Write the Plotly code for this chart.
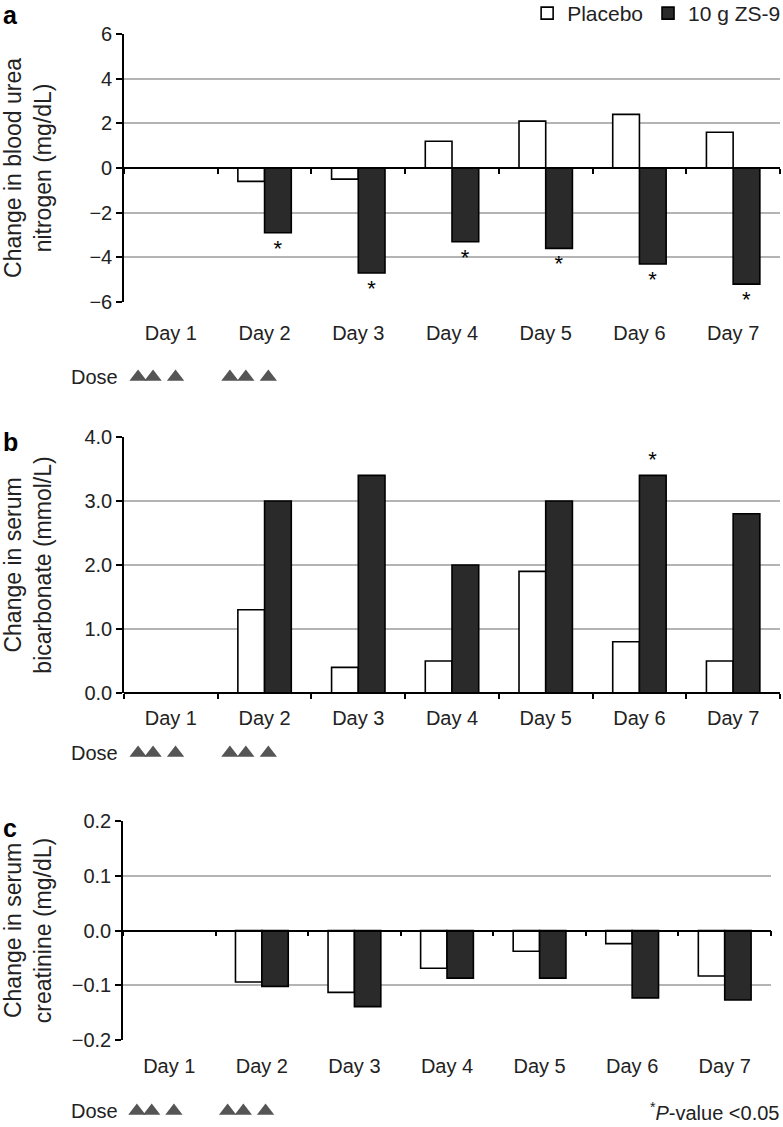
import plotly.graph_objects as go

# ---------------- data ----------------
days = ["Day 1", "Day 2", "Day 3", "Day 4", "Day 5", "Day 6", "Day 7"]
series_names = ["Placebo", "10 g ZS-9"]

bun_placebo = [None, -0.6, -0.5, 1.2, 2.1, 2.4, 1.6]
bun_zs9 = [None, -2.9, -4.7, -3.3, -3.6, -4.3, -5.2]
bun_sig = [False, True, True, True, True, True, True]

bic_placebo = [None, 1.3, 0.4, 0.5, 1.9, 0.8, 0.5]
bic_zs9 = [None, 3.0, 3.4, 2.0, 3.0, 3.4, 2.8]
bic_sig = [False, False, False, False, False, True, False]

cre_placebo = [None, -0.094, -0.113, -0.069, -0.038, -0.024, -0.083]
cre_zs9 = [None, -0.102, -0.139, -0.087, -0.087, -0.123, -0.127]
cre_sig = [False] * 7

# dose times, in day units (Day 1 = 0)
dose_times = [-0.35, -0.19, 0.05, 0.63, 0.80, 1.04]

y_titles = ["Change in blood urea<br>nitrogen (mg/dL)",
            "Change in serum<br>bicarbonate (mmol/L)",
            "Change in serum<br>creatinine (mg/dL)"]
panel_letters = ["a", "b", "c"]
y_ranges = [[-6, 6], [0, 4], [-0.2, 0.2]]
y_dticks = [2, 1, 0.1]
y_formats = ["d", ".1f", ".1f"]

# ---------------- layout helpers ----------------
W, H = 783, 1127
FONT = "Liberation Sans, Arial, Helvetica, sans-serif"
def fx(px):
    return px / W
def fy(px):
    return 1 - px / H

xs = list(range(len(days)))
x_range = [-0.5, len(days) - 0.5]
boundaries = [i - 0.5 for i in range(len(days) + 1)]

# panel pixel boxes (left, right, top, bottom)
boxes = [(124, 780, 34, 302), (124, 780, 437, 693), (123, 771, 821, 1040)]
dose_centers = [377, 753, 1111]
label_standoff = [17, 11, 12]
title_standoff = [33, 29, 16]
letter_tops = [0, 427, 813]

fig = go.Figure()
layout = {}
annotations = []

panels = [(bun_placebo, bun_zs9, bun_sig),
          (bic_placebo, bic_zs9, bic_sig),
          (cre_placebo, cre_zs9, cre_sig)]

for i, (plac, zs, sig) in enumerate(panels):
    n = i + 1
    xk = "xaxis" if n == 1 else f"xaxis{n}"
    yk = "yaxis" if n == 1 else f"yaxis{n}"
    xref = "x" if n == 1 else f"x{n}"
    yref = "y" if n == 1 else f"y{n}"
    l, r, t, b = boxes[i]

    fig.add_trace(go.Bar(
        x=xs, y=plac, name=series_names[0], legendgroup="p", showlegend=(i == 0),
        marker=dict(color="white", line=dict(color="black", width=1.6)),
        xaxis=xref, yaxis=yref, hoverinfo="skip"))
    zs_kwargs = {}
    if any(sig):
        zs_kwargs = dict(text=["*" if s else "" for s in sig], textposition="outside",
                         textfont=dict(size=22, color="black", family=FONT),
                         constraintext="none", cliponaxis=False)
    fig.add_trace(go.Bar(
        x=xs, y=zs, name=series_names[1], legendgroup="z", showlegend=(i == 0),
        marker=dict(color="#2a2a2a", line=dict(color="black", width=1.6)),
        xaxis=xref, yaxis=yref, hoverinfo="skip", **zs_kwargs))

    ydom = [fy(b), fy(t)]
    layout[xk] = dict(domain=[fx(l), fx(r)], range=x_range, anchor=yref,
                      tickvals=xs, ticktext=days, ticks="", showline=False,
                      showgrid=False, zeroline=False, ticklabelstandoff=label_standoff[i],
                      tickfont=dict(size=20, color="#222", family=FONT))
    layout[yk] = dict(domain=ydom, range=y_ranges[i], dtick=y_dticks[i],
                      tickformat=y_formats[i], anchor=xref,
                      showline=True, linecolor="black", linewidth=1.6,
                      ticks="outside", ticklen=6, tickwidth=1.6, tickcolor="black",
                      showgrid=True, gridcolor="#b4b4b4", gridwidth=2,
                      zeroline=True, zerolinecolor="black", zerolinewidth=1.6,
                      tickfont=dict(size=20, color="#222", family=FONT),
                      title=dict(text=y_titles[i], standoff=title_standoff[i],
                                 font=dict(size=23, color="#222", family=FONT)))

    # boundary-tick axis along the zero line
    m = n + 3
    tk = f"xaxis{m}"
    tref = f"x{m}"
    lo, hi = y_ranges[i]
    zero_pos = ydom[0] + (0 - lo) / (hi - lo) * (ydom[1] - ydom[0])
    layout[tk] = dict(overlaying=xref, anchor="free", position=zero_pos,
                      range=x_range, tickvals=boundaries, ticks="outside",
                      ticklen=5, tickwidth=1.6, tickcolor="black",
                      showticklabels=False, showline=True, linecolor="black",
                      linewidth=1.6, showgrid=False, zeroline=False)
    fig.add_trace(go.Scatter(x=[None], y=[None], xaxis=tref, yaxis=yref,
                             showlegend=False, hoverinfo="skip", mode="markers"))

    # dose row
    d = n + 6
    dxk, dyk = f"xaxis{d}", f"yaxis{d}"
    dxr, dyr = f"x{d}", f"y{d}"
    c = dose_centers[i]
    layout[dxk] = dict(domain=[fx(l), fx(r)], range=x_range, anchor=dyr, visible=False)
    layout[dyk] = dict(domain=[fy(c + 12), fy(c - 12)], range=[0, 1], anchor=dxr, visible=False)
    fig.add_trace(go.Scatter(x=dose_times, y=[0.5] * len(dose_times), mode="markers",
                             marker=dict(symbol="triangle-up", size=15, color="#555555",
                                         line=dict(width=0)),
                             xaxis=dxr, yaxis=dyr, showlegend=False, hoverinfo="skip"))
    annotations.append(dict(text="Dose", xref="paper", x=fx(120), xanchor="right",
                            yref=f"{dyr} domain", y=0.5, yanchor="middle", showarrow=False,
                            font=dict(size=20, color="#222", family=FONT)))

    # panel letter
    annotations.append(dict(text=f"<b>{panel_letters[i]}</b>", xref="paper", x=0.002, xanchor="left",
                            yref="paper", y=fy(letter_tops[i]), yanchor="top",
                            showarrow=False, borderpad=0,
                            font=dict(size=25, color="black", family=FONT)))

annotations.append(dict(text="<sup>*</sup><i>P</i>-value <0.05", xref="paper", x=fx(781),
                        xanchor="right", yref="y9 domain", y=0.5, yanchor="middle",
                        showarrow=False, font=dict(size=20, color="#222", family=FONT)))

fig.update_layout(
    width=W, height=H, margin=dict(l=0, r=0, t=0, b=0, autoexpand=False),
    paper_bgcolor="white", plot_bgcolor="white",
    barmode="group", bargap=0.43, bargroupgap=0,
    font=dict(family=FONT, color="#222"),
    legend=dict(orientation="h", x=1.004, xanchor="right",
                y=fy(-7), yanchor="top",
                font=dict(size=21, color="#222", family=FONT),
                itemwidth=30, tracegroupgap=0, bgcolor="rgba(0,0,0,0)"),
    annotations=annotations,
    **layout,
)

fig.write_html("out.html", post_script="document.body.style.margin='0';",
               config={"displayModeBar": False})
